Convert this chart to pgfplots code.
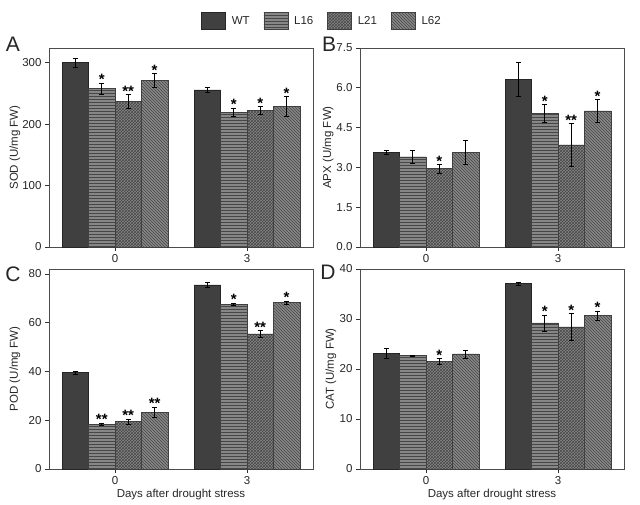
\documentclass[border=0pt]{standalone}
\usepackage{fontspec}
\setmainfont{Liberation Sans}
\usepackage{pgfplots}
\usepackage{pgfplotstable}
\pgfplotsset{compat=1.18}
\usetikzlibrary{patterns}

% SOD
\pgfplotstableread{
g WT  WTe L16 L16e L21 L21e L62 L62e
0 300 7   258 9    237 11.5 271 11
1 256 4   219 7    222 6.5  229 16
}\sodtab
\pgfplotstableread{
x    y     s
-0.1 267   *
0.1  248.5 **
0.3  282   *
0.9  226   *
1.1  228.5 *
1.3  245   *
}\sodsig
% APX
\pgfplotstableread{
g WT   WTe  L16  L16e L21  L21e L62  L62e
0 3.57 0.08 3.40 0.25 2.95 0.16 3.57 0.45
1 6.33 0.64 5.03 0.35 3.85 0.81 5.13 0.44
}\apxtab
\pgfplotstableread{
x    y    s
0.1  3.11 *
0.9  5.38 *
1.1  4.66 **
1.3  5.57 *
}\apxsig
% POD
\pgfplotstableread{
g WT   WTe L16  L16e L21  L21e L62  L62e
0 39.5 0.6 18.4 0.5  19.4 1.1  23.3 2.1
1 75.5 1.1 67.6 0.4  55.4 1.4  68.2 0.7
}\podtab
\pgfplotstableread{
x    y    s
-0.1 18.9 **
0.1  20.5 **
0.3  25.4 **
0.9  68.0 *
1.1  56.8 **
1.3  68.9 *
}\podsig
% CAT
\pgfplotstableread{
g WT   WTe  L16  L16e L21  L21e L62  L62e
0 23.1 0.95 22.7 0.1  21.5 0.55 23.0 0.8
1 37.1 0.3  29.2 1.6  28.4 2.7  30.7 0.9
}\cattab
\pgfplotstableread{
x    y     s
0.1  22.05 *
0.9  30.8  *
1.1  31.1  *
1.3  31.6  *
}\catsig

\pgfplotsset{
  sWT/.style={fill=black!75, draw=black!85, line width=0.5pt},
  sLa/.style={fill=black!47, draw=black!75, line width=0.5pt, postaction={pattern=horizontal lines, pattern color=black!72}},
  sLb/.style={fill=black!47, draw=black!75, line width=0.5pt, postaction={pattern=crosshatch, pattern color=black!72}},
  sLc/.style={fill=black!47, draw=black!75, line width=0.5pt, postaction={pattern=north west lines, pattern color=black!72}},
  eb/.style={error bars/.cd, y dir=both, y explicit,
    error bar style={black, line width=0.7pt},
    error mark options={rotate=90, black, mark size=2.6pt, line width=0.7pt}},
  sig/.style={forget plot, sharp plot, draw=none, bar shift=0,
    point meta=explicit symbolic, nodes near coords,
    every node near coord/.append style={anchor=south, inner sep=0pt, yshift=-2pt,
      font=\fontsize{15}{15}\selectfont\bfseries, black}},
  panel/.style={
    scale only axis, width=264pt, anchor=south west,
    xmin=-0.5, xmax=1.5, ymin=0,
    xtick={0,1}, xticklabels={0,3},
    tick align=outside, tick pos=left,
    major tick length=4pt,
    ybar, bar width=0.2,
    axis line style={black!70, line width=0.8pt},
    major tick style={black!80, line width=0.7pt},
    tick label style={font=\fontsize{11.5}{13}\selectfont, text=black!85},
    label style={font=\fontsize{11.5}{13}\selectfont, text=black!85},
    /pgf/number format/assume math mode=true,
    clip=false,
  },
}

\begin{document}
\begin{tikzpicture}
\useasboundingbox (0,0) rectangle (640pt,505pt);

% ---------- A ----------
\begin{axis}[panel, at={(49pt,258pt)}, height=199pt,
  ymax=324, ytick={0,100,200,300},
  ylabel={SOD (U/mg FW)},
  ylabel style={at={(axis description cs:-0.129,0.5)}, anchor=center},
  legend columns=4,
  legend style={at={(axis description cs:1.034,1.135)}, anchor=center, draw=none, fill=none,
    font=\fontsize{11.5}{13}\selectfont, text=black!85,
    /tikz/every odd column/.append style={column sep=4pt},
    /tikz/every even column/.append style={column sep=12pt}},
  legend image code/.code={\draw[#1] (0pt,-8.5pt) rectangle (24pt,8.5pt);},
]
\addplot[sWT, bar shift=-0.3, eb] table[x=g, y=WT, y error=WTe]{\sodtab};
\addlegendentry{WT}
\addplot[sLa, bar shift=-0.1, eb] table[x=g, y=L16, y error=L16e]{\sodtab};
\addlegendentry{L16}
\addplot[sLb, bar shift=0.1, eb] table[x=g, y=L21, y error=L21e]{\sodtab};
\addlegendentry{L21}
\addplot[sLc, bar shift=0.3, eb] table[x=g, y=L62, y error=L62e]{\sodtab};
\addlegendentry{L62}
\addplot[sig] table[x=x, y=y, meta=s]{\sodsig};
\end{axis}

% ---------- B ----------
\begin{axis}[panel, at={(360pt,258pt)}, height=199pt,
  ymax=7.5, ytick={0,1.5,3,4.5,6,7.5},
  yticklabel style={/pgf/number format/.cd, fixed, fixed zerofill, precision=1},
  ylabel={APX (U/mg FW)},
  ylabel style={at={(axis description cs:-0.121,0.5)}, anchor=center},
]
\addplot[sWT, bar shift=-0.3, eb] table[x=g, y=WT, y error=WTe]{\apxtab};
\addplot[sLa, bar shift=-0.1, eb] table[x=g, y=L16, y error=L16e]{\apxtab};
\addplot[sLb, bar shift=0.1, eb] table[x=g, y=L21, y error=L21e]{\apxtab};
\addplot[sLc, bar shift=0.3, eb] table[x=g, y=L62, y error=L62e]{\apxtab};
\addplot[sig] table[x=x, y=y, meta=s]{\apxsig};
\end{axis}

% ---------- C ----------
\begin{axis}[panel, at={(49pt,36pt)}, height=200pt,
  ymax=82, ytick={0,20,40,60,80},
  ylabel={POD (U/mg FW)},
  ylabel style={at={(axis description cs:-0.129,0.5)}, anchor=center},
  xlabel={Days after drought stress},
  xlabel style={at={(axis description cs:0.5,-0.13)}, anchor=center},
]
\addplot[sWT, bar shift=-0.3, eb] table[x=g, y=WT, y error=WTe]{\podtab};
\addplot[sLa, bar shift=-0.1, eb] table[x=g, y=L16, y error=L16e]{\podtab};
\addplot[sLb, bar shift=0.1, eb] table[x=g, y=L21, y error=L21e]{\podtab};
\addplot[sLc, bar shift=0.3, eb] table[x=g, y=L62, y error=L62e]{\podtab};
\addplot[sig] table[x=x, y=y, meta=s]{\podsig};
\end{axis}

% ---------- D ----------
\begin{axis}[panel, at={(360pt,36pt)}, height=200pt,
  ymax=40, ytick={0,10,20,30,40},
  ylabel={CAT (U/mg FW)},
  ylabel style={at={(axis description cs:-0.11,0.5)}, anchor=center},
  xlabel={Days after drought stress},
  xlabel style={at={(axis description cs:0.5,-0.13)}, anchor=center},
]
\addplot[sWT, bar shift=-0.3, eb] table[x=g, y=WT, y error=WTe]{\cattab};
\addplot[sLa, bar shift=-0.1, eb] table[x=g, y=L16, y error=L16e]{\cattab};
\addplot[sLb, bar shift=0.1, eb] table[x=g, y=L21, y error=L21e]{\cattab};
\addplot[sLc, bar shift=0.3, eb] table[x=g, y=L62, y error=L62e]{\cattab};
\addplot[sig] table[x=x, y=y, meta=s]{\catsig};
\end{axis}

% panel letters
\node[font=\fontsize{21}{21}\selectfont, text=black!85] at (13pt,461pt) {A};
\node[font=\fontsize{21}{21}\selectfont, text=black!85] at (329pt,461pt) {B};
\node[font=\fontsize{21}{21}\selectfont, text=black!85] at (13pt,231pt) {C};
\node[font=\fontsize{21}{21}\selectfont, text=black!85] at (328pt,233pt) {D};
\end{tikzpicture}
\end{document}
